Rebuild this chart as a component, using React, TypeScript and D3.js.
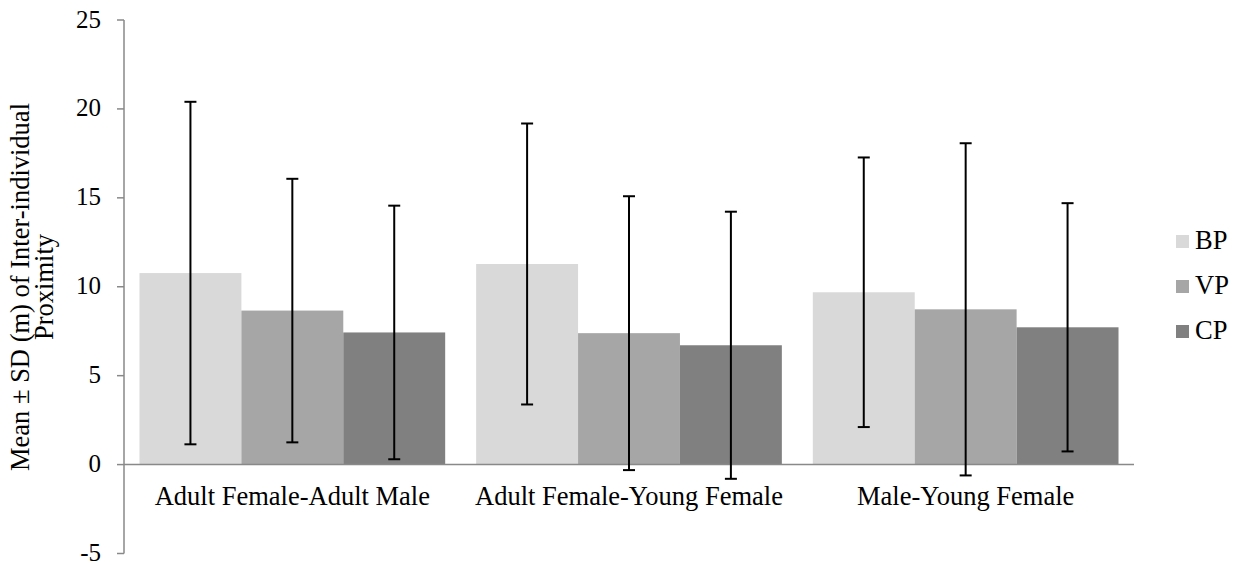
import React from 'react';
import * as d3 from 'd3';

const categories = ['Adult Female-Adult Male', 'Adult Female-Young Female', 'Male-Young Female'];
const seriesNames = ['BP', 'VP', 'CP'];
const bpMean = [10.77, 11.28, 9.69];
const bpSd = [9.63, 7.9, 7.58];
const vpMean = [8.66, 7.39, 8.73];
const vpSd = [7.41, 7.7, 9.34];
const cpMean = [7.43, 6.71, 7.72];
const cpSd = [7.13, 7.51, 6.98];
const yTicks = [-5, 0, 5, 10, 15, 20, 25];
const colors = ['#d9d9d9', '#a6a6a6', '#808080'];

const W = 1233;
const H = 565;
const font = '"Liberation Serif", "Times New Roman", serif';

const App: React.FC = () => {
  const means = [bpMean, vpMean, cpMean];
  const sds = [bpSd, vpSd, cpSd];

  const x0 = d3
    .scaleBand<string>()
    .domain(categories)
    .range([124, 1134])
    .paddingInner(0.092)
    .paddingOuter(0.046);
  const x1 = d3.scaleBand<string>().domain(seriesNames).range([0, x0.bandwidth()]);
  const y = d3.scaleLinear().domain([-5, 25]).range([553.5, 20]);

  const axisColor = '#898989';

  return (
    <svg
      width={W}
      height={H}
      style={{ position: 'absolute', left: 0, top: 0, background: '#fff' }}
      fontFamily={font}
    >
      {/* bars */}
      {categories.map((c, ci) =>
        seriesNames.map((s, si) => {
          const v = means[si][ci];
          return (
            <rect
              key={c + s}
              x={(x0(c) || 0) + (x1(s) || 0)}
              y={y(v)}
              width={x1.bandwidth()}
              height={y(0) - y(v)}
              fill={colors[si]}
            />
          );
        }),
      )}

      {/* y axis */}
      <line x1={124} x2={124} y1={y(25)} y2={y(-5)} stroke={axisColor} strokeWidth={1.5} />
      {yTicks.map((t) => (
        <g key={t}>
          <line x1={117} x2={124} y1={y(t)} y2={y(t)} stroke={axisColor} strokeWidth={1.5} />
          <text x={101} y={y(t)} dy="0.3em" textAnchor="end" fontSize={25} fill="#000">
            {t}
          </text>
        </g>
      ))}

      {/* x axis at zero */}
      <line x1={124} x2={1134} y1={y(0)} y2={y(0)} stroke={axisColor} strokeWidth={1.5} />

      {/* error bars */}
      {categories.map((c, ci) =>
        seriesNames.map((s, si) => {
          const cx = (x0(c) || 0) + (x1(s) || 0) + x1.bandwidth() / 2;
          const top = y(means[si][ci] + sds[si][ci]);
          const bot = y(means[si][ci] - sds[si][ci]);
          return (
            <g key={'e' + c + s} stroke="#000" strokeWidth={2}>
              <line x1={cx} x2={cx} y1={top} y2={bot} />
              <line x1={cx - 6} x2={cx + 6} y1={top} y2={top} />
              <line x1={cx - 6} x2={cx + 6} y1={bot} y2={bot} />
            </g>
          );
        }),
      )}

      {/* category labels */}
      {categories.map((c) => (
        <text
          key={c}
          x={(x0(c) || 0) + x0.bandwidth() / 2}
          y={505}
          textAnchor="middle"
          fontSize={26.5}
          fill="#000"
        >
          {c}
        </text>
      ))}

      {/* y title */}
      <text transform="translate(29,287) rotate(-90)" textAnchor="middle" fontSize={26.5} fill="#000">
        Mean ± SD (m) of Inter-individual
      </text>
      <text transform="translate(53,287) rotate(-90)" textAnchor="middle" fontSize={26.5} fill="#000">
        Proximity
      </text>

      {/* legend */}
      {seriesNames.map((s, si) => (
        <g key={'l' + s} transform={`translate(1176,${235 + si * 45})`}>
          <rect x={0} y={0} width={13} height={13} fill={colors[si]} />
          <text x={19} y={13.5} fontSize={26.5} fill="#000">
            {s}
          </text>
        </g>
      ))}
    </svg>
  );
};

export default App;
